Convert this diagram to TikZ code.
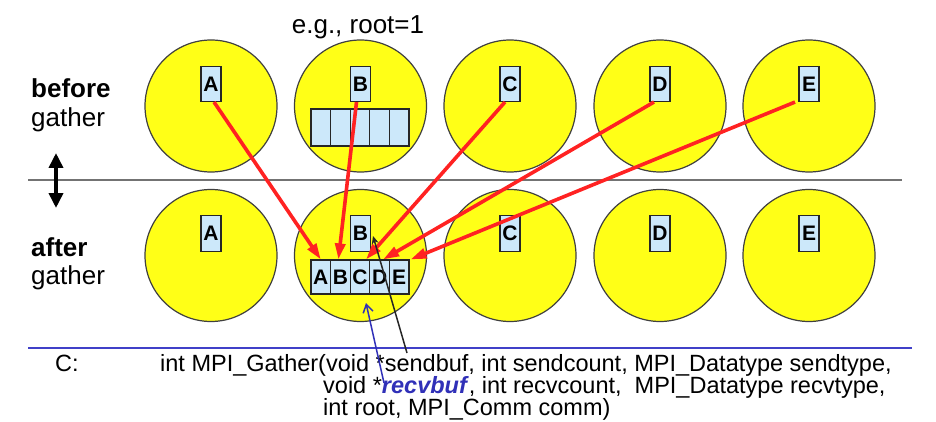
\documentclass[tikz,border=0pt]{standalone}
\usepackage{fontspec}
\setmainfont{Liberation Sans}
\usetikzlibrary{arrows.meta}
\definecolor{cyel}{HTML}{FFFF17}
\definecolor{cbox}{HTML}{CCE8FA}
\definecolor{cred}{HTML}{FF2222}
\definecolor{cblue}{HTML}{3030B8}
\definecolor{cline}{HTML}{4040C8}
\tikzset{
  proc/.style={circle, draw=black!75, line width=1.2pt, fill=cyel, minimum size=132pt, inner sep=0pt},
  cell/.style={draw=black!85, line width=1.1pt, fill=cbox, minimum width=20pt, minimum height=35pt, inner sep=0pt, font=\fontsize{21}{21}\selectfont\bfseries},
  bcell/.style={draw=black!85, line width=1.1pt, fill=cbox, minimum width=19.6pt, minimum height=37pt, inner sep=0pt},
  rcell/.style={draw=black!85, line width=1.1pt, fill=cbox, minimum width=19.6pt, minimum height=34pt, inner sep=0pt, font=\fontsize{21}{21}\selectfont\bfseries},
  redarrow/.style={draw=cred, line width=3.6pt, -{Triangle[length=16pt,width=10pt]}},
  lbl/.style={font=\fontsize{26}{26}\selectfont, inner sep=0pt},
  code/.style={font=\fontsize{23.5}{23.5}\selectfont, inner sep=0pt, anchor=base west},
}
\begin{document}
\begin{tikzpicture}[x=1pt,y=-1pt]
\useasboundingbox (0,0) rectangle (936,422);
% divider lines
\draw[gray!90!black, line width=2pt] (28,180) -- (902,180);
\draw[cline, line width=1.5pt] (28,348) -- (912,348);
% circles
\foreach \n/\x in {A/211,B/360.5,C/510,D/660,E/809}{
  \node[proc] (t\n) at (\x,106) {};
  \node[proc] (b\n) at (\x,255.5) {};
}
\foreach \n/\x in {A/211,B/360.5,C/510,D/660,E/809}{
  \node[cell] (t\n b) at (\x,84) {\n};
  \node[cell, minimum height=36pt] (b\n b) at (\x,233.5) {\n};
}
% send buffer in root (top)
\foreach \i/\x in {1/320.8,2/340.4,3/360,4/379.6,5/399.2}{
  \node[bcell] (s\i) at (\x,127.5) {};
}
% receive buffer in root (bottom)
\foreach \n/\x in {A/320.8,B/340.4,C/360,D/379.6,E/399.2}{
  \node[rcell] (r\n) at (\x,277) {\n};
}
% labels
\node[lbl] (eg) at (358,27) {e.g., root=1};
\node[lbl, anchor=west, font=\fontsize{26}{26}\selectfont\bfseries] (before) at (31,88) {before};
\node[lbl, anchor=west] (g1) at (31,120) {gather};
\node[lbl, anchor=west, font=\fontsize{26}{26}\selectfont\bfseries] (after) at (31,247) {after};
\node[lbl, anchor=west] (g2) at (31,278) {gather};
% double arrow
\coordinate (da1) at (56,153);
\coordinate (da2) at (56,208);
\draw[line width=3.6pt, {Triangle[length=15pt,width=14pt]}-{Triangle[length=15pt,width=14pt]}] (da1) -- (da2);
% red arrows
\draw[redarrow] ([xshift=3pt]tAb.south) -- (rA.north);
\draw[redarrow] ([xshift=-4pt]tBb.south) -- ([xshift=-2pt]rB.north);
\draw[redarrow] ([xshift=-5pt]tCb.south) -- ([xshift=6pt]rC.north);
\draw[redarrow] ([xshift=-6pt]tDb.south) -- ([xshift=3.5pt]rD.north);
\draw[redarrow] ([xshift=-14pt]tEb.south) -- ([xshift=1pt]rE.north east);
% code
\node[code] (cl) at (55,371) {C:};
\node[code] (l1) at (160,371) {int MPI\_Gather(void *sendbuf, int sendcount, MPI\_Datatype sendtype,};
\node[code] (l2) at (323,393) {void *\textcolor{cblue}{\textbf{\textit{recvbuf}}}, int recvcount,\ \ MPI\_Datatype recvtype,};
\node[code] (l3) at (323,415) {int root, MPI\_Comm comm)};
% pointers from code
\coordinate (sb) at (407,353);
\coordinate (sbt) at (373,236);
\draw[black!85, line width=1.5pt, -{Stealth[length=8pt,width=7pt]}] (sb) -- (sbt);
\coordinate (rb) at (384,383);
\coordinate (rbt) at (366,303);
\draw[cblue, line width=1.5pt, -{Straight Barb[length=8pt,width=10pt]}] (rb) -- (rbt);
\end{tikzpicture}
\end{document}
